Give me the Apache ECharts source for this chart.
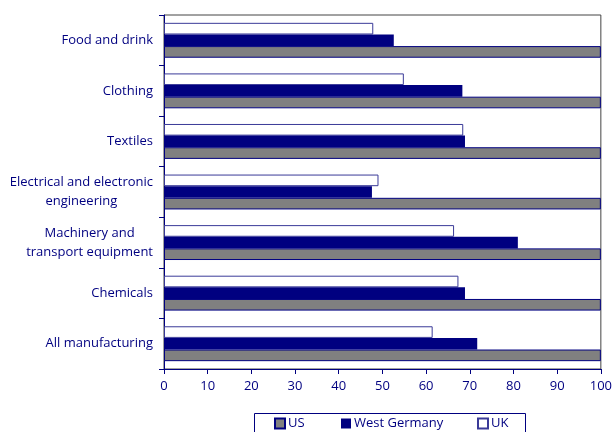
<!DOCTYPE html>
<html>
<head>
<meta charset="utf-8">
<script src="https://cdn.jsdelivr.net/npm/echarts@6/dist/echarts.min.js"></script>
<style>
  html, body { margin: 0; padding: 0; background: #fff; }
  #chart { width: 615px; height: 432px; }
</style>
</head>
<body>
<div id="chart"></div>
<script>
// Industries, top to bottom
const categories = [
  'Food and drink',
  'Clothing',
  'Textiles',
  'Electrical and electronic\nengineering',
  'Machinery and\ntransport equipment',
  'Chemicals',
  'All manufacturing'
];
// Productivity indexed to US = 100
const usValues = [100, 100, 100, 100, 100, 100, 100];
const westGermanyValues = [52.6, 68.3, 68.9, 47.6, 81.0, 68.9, 71.7];
const ukValues = [47.9, 54.9, 68.5, 49.1, 66.4, 67.4, 61.5];
const xTicks = [0, 10, 20, 30, 40, 50, 60, 70, 80, 90, 100];

const NAVY = '#000080';
const FONT = '"Open Sans", "DejaVu Sans", sans-serif';
const FS = 13;

const chart = echarts.init(document.getElementById('chart'), null, { renderer: 'canvas' });

function legendItem(name, left) {
  return {
    data: [{ name: name, icon: 'rect' }],
    left: left,
    top: 417,
    padding: 0,
    itemWidth: 10,
    itemHeight: 10,
    itemGap: 0,
    selectedMode: false,
    textStyle: { color: NAVY, fontSize: FS, fontFamily: FONT, padding: [0, 0, 0, -2] }
  };
}

chart.setOption({
  animation: false,
  backgroundColor: '#fff',
  textStyle: { fontFamily: FONT },
  grid: {
    left: 164, right: 11.5, top: 15, bottom: 63,
    show: true, borderColor: '#444', borderWidth: 1, backgroundColor: 'transparent'
  },
  legend: [
    legendItem('US', 274),
    legendItem('West Germany', 341),
    legendItem('UK', 477)
  ],
  graphic: [{
    type: 'rect',
    shape: { x: 254.5, y: 413.5, width: 271, height: 30 },
    style: { fill: 'none', stroke: NAVY, lineWidth: 1 },
    silent: true
  }],
  xAxis: {
    type: 'value',
    min: xTicks[0],
    max: xTicks[xTicks.length - 1],
    interval: xTicks[1] - xTicks[0],
    axisLine: { show: true, lineStyle: { color: NAVY, width: 1 } },
    axisTick: { show: true, length: 5, lineStyle: { color: NAVY } },
    splitLine: { show: false },
    axisLabel: { color: NAVY, fontSize: FS, fontFamily: FONT, margin: 11 }
  },
  yAxis: {
    type: 'category',
    inverse: true,
    data: categories,
    axisLine: { show: true, lineStyle: { color: NAVY, width: 1 } },
    axisTick: { show: true, length: 5, alignWithLabel: false, lineStyle: { color: NAVY } },
    axisLabel: {
      margin: 11,
      color: NAVY,
      fontSize: FS,
      fontFamily: FONT,
      lineHeight: 19,
      formatter: function (v) {
        return v.split('\n').map(function (s) { return '{c|' + s + '}'; }).join('\n');
      },
      rich: { c: { align: 'center', color: NAVY, fontSize: FS, fontFamily: FONT, lineHeight: 19 } }
    }
  },
  series: [
    {
      name: 'UK', type: 'bar', data: ukValues,
      barGap: '0%', barCategoryGap: '31%',
      itemStyle: { color: '#fff', borderColor: '#3a3a98', borderWidth: 1 }
    },
    {
      name: 'West Germany', type: 'bar', data: westGermanyValues,
      barGap: '0%', barCategoryGap: '31%',
      itemStyle: { color: NAVY, borderColor: NAVY, borderWidth: 0 }
    },
    {
      name: 'US', type: 'bar', data: usValues,
      barGap: '0%', barCategoryGap: '31%',
      itemStyle: { color: '#808080', borderColor: NAVY, borderWidth: 1 }
    }
  ]
});
</script>
</body>
</html>
